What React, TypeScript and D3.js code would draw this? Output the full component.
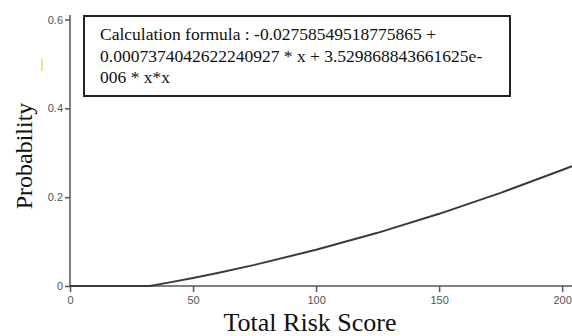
import React, { useEffect, useRef } from 'react';
import * as d3 from 'd3';

// values (probability is floored at 0)
const scores = [0, 10, 20, 30, 32.4, 40, 50, 60, 75, 100, 125, 150, 175, 200, 204];
const probabilities = [0, 0, 0, 0, 0, 0.0076, 0.0181, 0.0294, 0.0476, 0.0815, 0.1197, 0.1625, 0.2096, 0.2611, 0.2697];
const xTicks = [0, 50, 100, 150, 200];
const yTicks = [0, 0.2, 0.4, 0.6];
const formulaLines = [
  'Calculation formula : -0.02758549518775865 +',
  '0.0007374042622240927 * x + 3.529868843661625e-',
  '006 * x*x',
];

const width = 572;
const height = 336;
const margin = { left: 70, top: 15, right: 0, bottom: 50 };
const serif = '"Liberation Serif", "Times New Roman", serif';

export default function App() {
  const axisX = useRef<SVGGElement>(null);
  const axisY = useRef<SVGGElement>(null);

  const x = d3.scaleLinear().domain([0, 204]).range([margin.left, width - margin.right]);
  const y = d3.scaleLinear().domain([0, 0.6]).range([286, 19.5]);

  useEffect(() => {
    const gx = d3.select(axisX.current!);
    gx.call(
      d3.axisBottom(x).tickValues(xTicks).tickSize(6).tickPadding(4).tickFormat(d3.format('d'))
    );
    const gy = d3.select(axisY.current!);
    gy.call(
      d3.axisLeft(y).tickValues(yTicks).tickSize(5).tickPadding(2).tickFormat(d => (d === 0 ? '0' : d3.format('.1f')(d as number)))
    );
    [gx, gy].forEach(g => {
      g.select('.domain').attr('stroke', '#808080').attr('stroke-width', 2);
      g.selectAll('.tick line').attr('stroke', '#555').attr('stroke-width', 1.5);
      g.selectAll('.tick text')
        .attr('fill', '#555')
        .style('font-family', '"Liberation Sans", Arial, sans-serif')
        .style('font-size', '11px');
    });
    gx.select('.domain').attr('d', `M${x(0)},0H${width}`);
    gy.select('.domain').attr('d', `M0,${y(0)}V${margin.top}`);
  }, []);

  const line = d3
    .line<number>()
    .x((_, i) => x(scores[i]))
    .y(d => y(d));

  return (
    <svg
      width={width}
      height={height}
      viewBox={`0 0 ${width} ${height}`}
      style={{ position: 'absolute', left: 0, top: 0, background: '#fff' }}
    >
      <rect x={41} y={59} width={2} height={12} fill="#f6dc7a" />
      <g ref={axisX} transform={`translate(0, ${y(0)})`} />
      <g ref={axisY} transform={`translate(${margin.left}, 0)`} />
      <path d={line(probabilities) ?? ''} fill="none" stroke="#3a3a3a" strokeWidth={2} />
      <rect x={84} y={16} width={426} height={80} fill="#fff" stroke="#222" strokeWidth={2} />
      {formulaLines.map((t, i) => (
        <text
          key={i}
          x={100}
          y={40 + i * 21.5}
          style={{ fontFamily: serif, fontSize: '17.5px' }}
          fill="#111"
        >
          {t}
        </text>
      ))}
      <text
        x={310}
        y={331}
        textAnchor="middle"
        style={{ fontFamily: serif, fontSize: '26px' }}
        fill="#111"
      >
        Total Risk Score
      </text>
      <text
        transform="translate(32, 156) rotate(-90)"
        textAnchor="middle"
        style={{ fontFamily: serif, fontSize: '24px' }}
        fill="#111"
      >
        Probability
      </text>
    </svg>
  );
}
